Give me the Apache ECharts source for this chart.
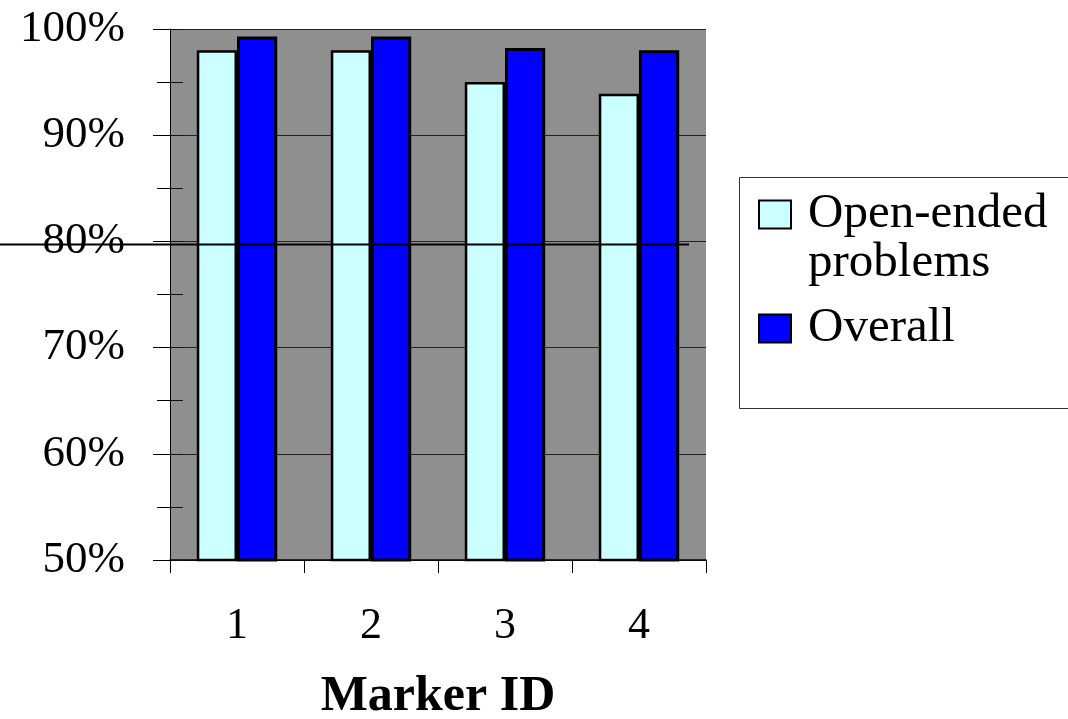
<!DOCTYPE html>
<html><head><meta charset="utf-8">
<script src="https://cdn.jsdelivr.net/npm/echarts@6/dist/echarts.min.js"></script>
<style>html,body{margin:0;padding:0;background:#fff}#c{width:1068px;height:719px}</style>
</head><body><div id="c"></div>
<script>
const categories = ['1', '2', '3', '4'];
const seriesNames = ['Open-ended problems', 'Overall'];
const openEnded = [98.0, 98.0, 95.0, 93.9];
const overall = [99.3, 99.3, 98.2, 98.0];
const yMin = 50, yMax = 100, yStep = 10;
const refLineValue = 79.7;
const xTitle = 'Marker ID';

const serif = '"Liberation Serif","Times New Roman",serif';
const grid = { left: 170, right: 362, top: 29, bottom: 159 };

const chart = echarts.init(document.getElementById('c'), null, { renderer: 'canvas' });
chart.setOption({
  animation: false,
  backgroundColor: '#fff',
  grid: Object.assign({ show: true, backgroundColor: '#8f8f8f', borderWidth: 0, containLabel: false, outerBoundsMode: 'none' }, grid),
  legend: {
    orient: 'vertical',
    left: 758,
    top: 141,
    padding: 0,
    itemGap: 16,
    itemWidth: 32,
    itemHeight: 28,
    icon: 'rect',
    data: [
      { name: seriesNames[0], icon: 'rect', itemStyle: { color: '#ccffff', borderColor: '#000', borderWidth: 2 } },
      { name: seriesNames[1], icon: 'rect', itemStyle: { color: '#0000ff', borderColor: '#000', borderWidth: 2 } }
    ],
    formatter: function (n) {
      return n === seriesNames[0] ? ' \nOpen-ended\nproblems' : n;
    },
    textStyle: { fontFamily: serif, fontSize: 49, lineHeight: 49, color: '#000', padding: [0, 0, 0, 12] }
  },
  xAxis: {
    type: 'category',
    data: categories,
    name: xTitle,
    nameLocation: 'middle',
    nameGap: 112,
    nameTextStyle: { fontFamily: serif, fontSize: 50, fontWeight: 'bold', color: '#000' },
    axisLine: { show: true, lineStyle: { color: '#000', width: 1.5 } },
    axisTick: { show: true, length: 13, lineStyle: { color: '#000', width: 1 } },
    axisLabel: { fontFamily: serif, fontSize: 44, color: '#000', margin: 44 },
    splitLine: { show: false }
  },
  yAxis: [
    {
      type: 'value',
      min: yMin, max: yMax, interval: yStep,
      axisLine: { show: true, lineStyle: { color: '#000', width: 1 } },
      axisTick: { show: true, length: 17, lineStyle: { color: '#000', width: 1 } },
      minorTick: { show: true, splitNumber: 2, length: 13, lineStyle: { color: '#000', width: 1 } },
      axisLabel: { fontFamily: serif, fontSize: 45, color: '#000', margin: 45, formatter: '{value}%' },
      splitLine: { show: true, lineStyle: { color: '#222', width: 1 } }
    },
    {
      type: 'value',
      min: yMin, max: yMax, interval: yStep,
      position: 'left',
      axisLine: { show: false },
      axisTick: { show: true, inside: true, length: 13, lineStyle: { color: '#111', width: 1 } },
      minorTick: { show: true, splitNumber: 2, length: 13, lineStyle: { color: '#111', width: 1 } },
      axisLabel: { show: false },
      splitLine: { show: false }
    }
  ],
  series: [
    {
      name: seriesNames[0], type: 'bar', data: openEnded,
      barCategoryGap: '40%', barGap: '0%',
      itemStyle: { color: '#ccffff', borderColor: '#000', borderWidth: 2.5 }
    },
    {
      name: seriesNames[1], type: 'bar', data: overall,
      barCategoryGap: '40%', barGap: '0%',
      itemStyle: { color: '#0000ff', borderColor: '#000', borderWidth: 3 }
    }
  ]
});

const yRef = chart.convertToPixel({ yAxisIndex: 0 }, refLineValue);
const gridRightX = chart.getWidth() - grid.right;
chart.setOption({
  graphic: [
    {
      type: 'rect', z: 0, silent: true,
      shape: { x: 739.5, y: 177.5, width: 360, height: 231 },
      style: { fill: 'none', stroke: '#333', lineWidth: 1 }
    },
    {
      type: 'line', z: 100, silent: true,
      shape: { x1: 0, y1: yRef, x2: gridRightX - 17, y2: yRef },
      style: { stroke: '#000', lineWidth: 2 }
    }
  ]
});
</script></body></html>
